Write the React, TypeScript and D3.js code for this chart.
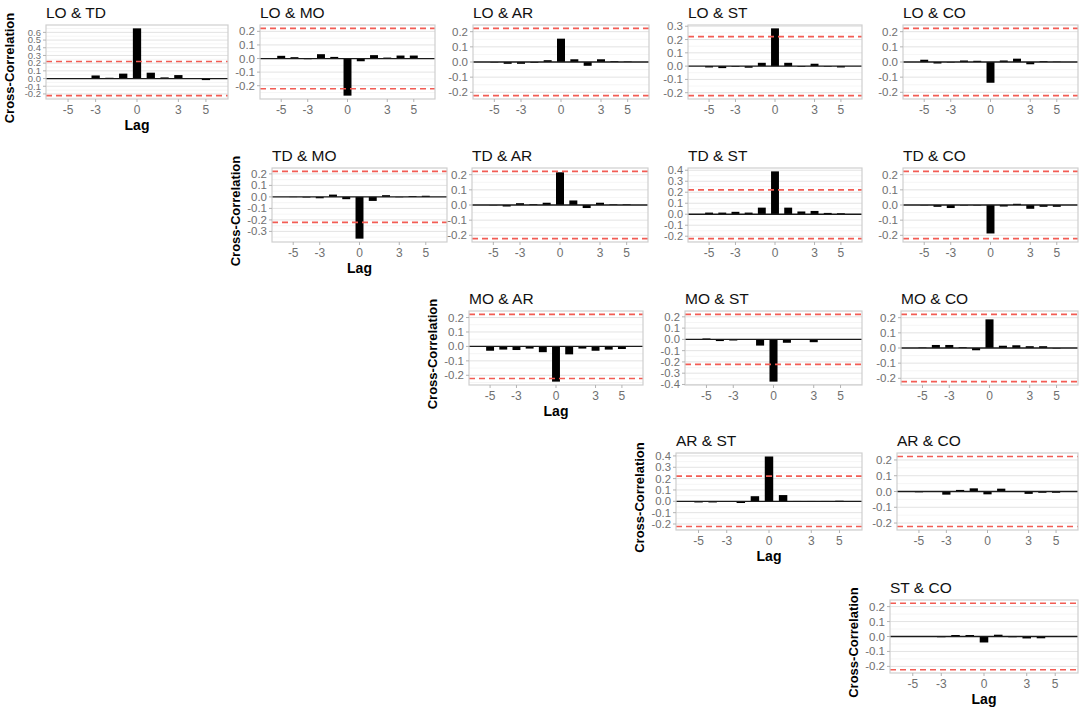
import React from "react";
import * as d3 from "d3";

// lags shown in every panel
const lags = [-5, -4, -3, -2, -1, 0, 1, 2, 3, 4, 5];
const xTickValues = [-5, -3, 0, 3, 5];
// 95% band, 2 / sqrt(n)
const ciBound = 0.222;

// cross-correlation at each lag
const loTd = [-0.004, 0.003, 0.04, 0.01, 0.064, 0.652, 0.076, 0.015, 0.045, 0.005, -0.02];
const loMo = [0.02, 0.01, -0.005, 0.032, 0.012, -0.273, -0.02, 0.025, 0.007, 0.022, 0.022];
const loAr = [-0.003, -0.012, -0.012, -0.005, 0.012, 0.154, 0.018, -0.025, 0.018, 0.005, 0.003];
const loSt = [-0.01, -0.015, -0.005, -0.012, 0.025, 0.284, 0.025, -0.005, 0.018, -0.004, -0.01];
const loCo = [0.015, -0.01, -0.003, 0.01, 0.008, -0.137, 0.01, 0.022, -0.015, 0.005, 0.002];
const tdMo = [-0.002, -0.005, -0.012, 0.02, -0.02, -0.363, -0.035, 0.015, -0.003, 0.007, 0.01];
const tdAr = [-0.002, -0.01, 0.012, 0.005, 0.015, 0.216, 0.03, -0.02, 0.015, 0.004, 0.004];
const tdSt = [0.015, 0.015, 0.022, 0.015, 0.06, 0.39, 0.06, 0.025, 0.03, 0.012, 0.009];
const tdCo = [-0.002, -0.012, -0.02, -0.003, -0.003, -0.188, -0.01, 0.008, -0.025, -0.012, -0.012];
const moAr = [-0.03, -0.022, -0.025, -0.015, -0.04, -0.244, -0.055, -0.015, -0.03, -0.022, -0.018];
const moSt = [0.008, -0.015, -0.01, -0.005, -0.055, -0.375, -0.03, -0.005, -0.025, -0.005, -0.003];
const moCo = [0.003, 0.02, 0.02, 0.005, -0.015, 0.189, 0.015, 0.018, 0.012, 0.012, -0.003];
const arSt = [-0.01, -0.01, -0.005, -0.015, 0.045, 0.395, 0.055, 0.003, 0.003, 0.003, 0.005];
const arCo = [-0.005, -0.003, -0.02, 0.01, 0.02, -0.018, 0.018, -0.003, -0.015, -0.008, -0.008];
const stCo = [-0.003, -0.003, -0.005, 0.01, 0.01, -0.04, 0.012, -0.005, -0.013, -0.012, -0.002];

// vertical placement of each row of panels
const rowTop = [25, 168, 311, 453, 600];
const rowHeight = [74, 74, 74, 77, 73];

const panels = [
    { title: "LO & TD", values: loTd, row: 0, diag: true, left: 46, right: 228 },
    { title: "LO & MO", values: loMo, row: 0, diag: false, left: 260, right: 435 },
    { title: "LO & AR", values: loAr, row: 0, diag: false, left: 473, right: 649 },
    { title: "LO & ST", values: loSt, row: 0, diag: false, left: 688, right: 862 },
    { title: "LO & CO", values: loCo, row: 0, diag: false, left: 903, right: 1078 },
    { title: "TD & MO", values: tdMo, row: 1, diag: true, left: 272, right: 447 },
    { title: "TD & AR", values: tdAr, row: 1, diag: false, left: 472, right: 648 },
    { title: "TD & ST", values: tdSt, row: 1, diag: false, left: 688, right: 862 },
    { title: "TD & CO", values: tdCo, row: 1, diag: false, left: 903, right: 1078 },
    { title: "MO & AR", values: moAr, row: 2, diag: true, left: 469, right: 643 },
    { title: "MO & ST", values: moSt, row: 2, diag: false, left: 685, right: 862 },
    { title: "MO & CO", values: moCo, row: 2, diag: false, left: 901, right: 1078 },
    { title: "AR & ST", values: arSt, row: 3, diag: true, left: 676, right: 862 },
    { title: "AR & CO", values: arCo, row: 3, diag: false, left: 897, right: 1078 },
    { title: "ST & CO", values: stCo, row: 4, diag: true, left: 890, right: 1078 },
];

const FONT = "'Liberation Sans', Arial, sans-serif";

type PanelProps = { title: string; values: number[]; row: number; diag: boolean; left: number; right: number };

/** one ccf panel */
function Panel(p: PanelProps) {
    const top = rowTop[p.row];
    const bottom = top + rowHeight[p.row];
    const lo = Math.min(-ciBound, d3.min(p.values)!);
    const hi = Math.max(ciBound, d3.max(p.values)!);
    const pad = (hi - lo) * 0.05;
    const y = d3.scaleLinear().domain([lo - pad, hi + pad]).range([bottom, top]);
    const x = d3.scaleLinear().domain([-6.6, 6.6]).range([p.left, p.right]);

    const majors = d3.range(Math.ceil((lo - pad) * 10 - 1e-9), Math.floor((hi + pad) * 10 + 1e-9) + 1).map(k => k / 10);
    const minors = d3.range(Math.floor((lo - pad) * 10), Math.ceil((hi + pad) * 10)).map(k => k / 10 + 0.05)
        .filter(v => v > lo - pad && v < hi + pad);
    const barW = 0.6;
    // label size follows the spacing of the ticks
    const step = y(0) - y(0.1);
    const tickFont = Math.max(9.5, Math.min(11.5, step));

    return <g>
        <text x={p.left} y={top - 7} fontSize={15.5} fill="#111">{p.title}</text>
        <rect x={p.left} y={top} width={p.right - p.left} height={bottom - top} fill="#fff" />
        {minors.map(v => <line key={"mi" + v} x1={p.left} x2={p.right} y1={y(v)} y2={y(v)} stroke="#f2f2f2" strokeWidth={0.8} />)}
        {majors.map(v => <line key={"ma" + v} x1={p.left} x2={p.right} y1={y(v)} y2={y(v)} stroke="#e3e3e3" strokeWidth={1} />)}
        {p.values.map((v, i) => {
            const lag = lags[i];
            return <rect key={"b" + lag}
                x={x(lag - barW / 2)}
                width={x(barW) - x(0)}
                y={Math.min(y(0), y(v))}
                height={Math.abs(y(v) - y(0))}
                fill="#000" />;
        })}
        <line x1={p.left} x2={p.right} y1={y(0)} y2={y(0)} stroke="#1a1a1a" strokeWidth={1.3} />
        {[ciBound, -ciBound].map(c => <line key={"ci" + c} x1={p.left} x2={p.right} y1={y(c)} y2={y(c)}
            stroke="#f25c54" strokeWidth={1.6} strokeDasharray="6,4" />)}
        <rect x={p.left} y={top} width={p.right - p.left} height={bottom - top} fill="none" stroke="#cfcfcf" strokeWidth={1.2} />
        {/* y axis */}
        {majors.map(v => <g key={"yt" + v}>
            <line x1={p.left - 3} x2={p.left} y1={y(v)} y2={y(v)} stroke="#b3b3b3" />
            <text x={p.left - 5} y={y(v)} dy="0.35em" textAnchor="end" fontSize={tickFont} fill="#707070">{v.toFixed(1)}</text>
        </g>)}
        {/* x axis */}
        {xTickValues.map(t => <g key={"xt" + t}>
            <line x1={x(t)} x2={x(t)} y1={bottom} y2={bottom + 3} stroke="#b3b3b3" />
            <text x={x(t)} y={bottom + 15} textAnchor="middle" fontSize={12} fill="#707070">{t}</text>
        </g>)}
        {p.diag && <>
            <text x={(p.left + p.right) / 2} y={bottom + 31} textAnchor="middle" fontSize={14} fontWeight="bold" fill="#000">Lag</text>
            <text transform={`translate(${p.left - 32},${(top + bottom) / 2 + 6}) rotate(-90)`} textAnchor="middle"
                fontSize={13} fontWeight="bold" fill="#000">Cross-Correlation</text>
        </>}
    </g>;
}

export default function App() {
    return <svg width={1084} height={712} style={{ position: "absolute", left: 0, top: 0, background: "#fff" }} fontFamily={FONT}>
        <rect width={1084} height={712} fill="#fff" />
        {panels.map(p => <Panel key={p.title} {...p} />)}
    </svg>;
}
